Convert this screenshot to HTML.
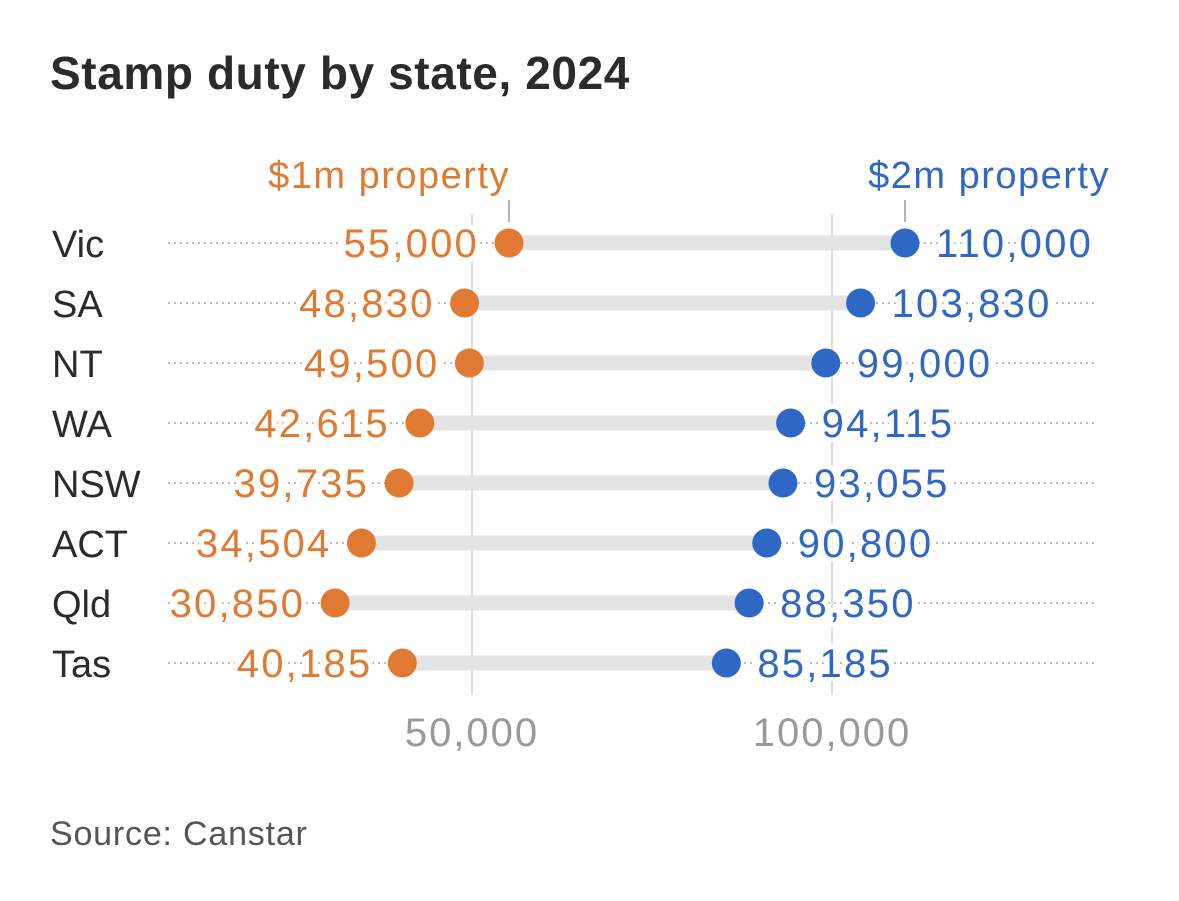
<!DOCTYPE html>
<html><head><meta charset="utf-8"><style>
body{margin:0;background:#fff;}
svg text{font-family:"Liberation Sans",sans-serif;}
</style></head><body>
<svg id="c" width="1179" height="896">
<text x="50" y="89" font-size="46" font-weight="bold" fill="#2b2b2b" letter-spacing="0.6">Stamp duty by state, 2024</text>
<text x="50" y="845" font-size="34" fill="#555" letter-spacing="0.8">Source: Canstar</text>
<g id="plot"></g>
</svg>
<script>
const states=["Vic","SA","NT","WA","NSW","ACT","Qld","Tas"];
const oneM=[55000,48830,49500,42615,39735,34504,30850,40185];
const twoM=[110000,103830,99000,94115,93055,90800,88350,85185];
const ticks=[50000,100000];
const tickLabels=["50,000","100,000"];
const ORANGE="#e07a32",BLUE="#2f68c4";
const x=v=>113+v*0.0072;
const y=i=>243+i*60;
const g=document.getElementById('plot');
const NS="http://www.w3.org/2000/svg";
function mk(t,a){const e=document.createElementNS(NS,t);for(const k in a)e.setAttribute(k,a[k]);g.appendChild(e);return e;}
const fmt=v=>v.toLocaleString('en-US');
const VAL={'font-size':40,'letter-spacing':2.2,stroke:'#fff','stroke-width':10,'paint-order':'stroke','stroke-linejoin':'round'};
ticks.forEach((t,i)=>{
 let l=mk('line',{x1:x(t)-1,x2:x(t)-1,y1:215,y2:695,stroke:'#ddd','stroke-width':2});
 
 
 let tx=mk('text',{x:x(t)-1,y:746,'font-size':40,'letter-spacing':2,fill:'#999','text-anchor':'middle'});tx.textContent=tickLabels[i];
 
 
});
states.forEach((s,i)=>{
 let d=mk('line',{x1:168,x2:1095,y1:y(i),y2:y(i),stroke:'#bbb','stroke-width':2,'stroke-dasharray':'2,4'});
 
 
 let lb=mk('text',{x:52,y:y(i)+14,'font-size':38,fill:'#2b2b2b'});lb.textContent=s;
 
 
 let b=mk('line',{x1:x(oneM[i]),x2:x(twoM[i]),y1:y(i),y2:y(i),stroke:'#e3e3e3','stroke-width':15});
 
 
 let c1=mk('circle',{cx:x(oneM[i]),cy:y(i),r:14.5,fill:ORANGE});
 
 
 let c2=mk('circle',{cx:x(twoM[i]),cy:y(i),r:14.5,fill:BLUE});
 
 
 let t1=mk('text',Object.assign({x:x(oneM[i])-30,y:y(i)+14,fill:ORANGE,'text-anchor':'end'},VAL));t1.textContent=fmt(oneM[i]);
 
 
 let t2=mk('text',Object.assign({x:x(twoM[i])+31,y:y(i)+14,fill:BLUE},VAL));t2.textContent=fmt(twoM[i]);
 
 
});
let a1=mk('text',{x:x(oneM[0])+1,y:188,'font-size':38,'letter-spacing':1.5,fill:ORANGE,'text-anchor':'end'});a1.textContent="$1m property";


let a2=mk('text',{x:1110,y:188,'font-size':38,'letter-spacing':1.5,fill:BLUE,'text-anchor':'end'});a2.textContent="$2m property";


let l1=mk('line',{x1:x(oneM[0]),x2:x(oneM[0]),y1:200,y2:222,stroke:'#999','stroke-width':1.5});


let l2=mk('line',{x1:x(twoM[0]),x2:x(twoM[0]),y1:200,y2:222,stroke:'#999','stroke-width':1.5});


</script>
</body></html>
